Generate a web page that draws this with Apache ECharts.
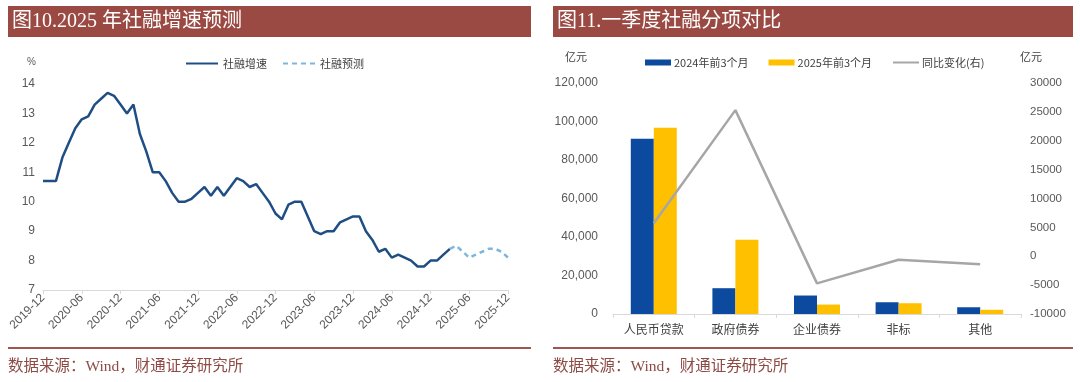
<!DOCTYPE html>
<html>
<head>
<meta charset="utf-8">
<script src="https://cdn.jsdelivr.net/npm/echarts@6/dist/echarts.min.js"></script>
<style>
html,body{margin:0;padding:0;background:#fff;}
#chart{width:1080px;height:382px;}
</style>
</head>
<body>
<div id="chart"></div>
<script>
// ---------- Left chart data ----------
var startYear = 2019, startMonth = 12, monthCount = 73; // 2019-12 .. 2025-12
var actualGrowth = [
  10.7,10.7,10.7,11.5,12.0,12.5,12.8,12.9,13.3,13.5,13.7,13.6,13.3,
  13.0,13.3,12.3,11.7,11.0,11.0,10.7,10.3,10.0,10.0,10.1,10.3,
  10.5,10.2,10.5,10.2,10.5,10.8,10.7,10.5,10.6,10.3,10.0,9.6,
  9.4,9.9,10.0,10.0,9.5,9.0,8.9,9.0,9.0,9.3,9.4,9.5,
  9.5,9.0,8.7,8.3,8.4,8.1,8.2,8.1,8.0,7.8,7.8,8.0,
  8.0,8.2,8.4
];
var forecastGrowth = [8.4,8.5,8.3,8.1,8.2,8.3,8.4,8.4,8.3,8.1]; // 2025-03 .. 2025-12
var forecastStartIndex = 63;

// ---------- Right chart data ----------
var categories = ['人民币贷款','政府债券','企业债券','非标','其他'];
var q1_2024 = [91100, 13400, 9600, 6100, 3500];
var q1_2025 = [96800, 38600, 4900, 5600, 2200];
var yoyChange = [5700, 25300, -4700, -600, -1400];

// ---------- build ----------
var months = [];
for (var k = 0; k < monthCount; k++) {
  var m0 = startMonth - 1 + k;
  var y = startYear + Math.floor(m0 / 12);
  var m = m0 % 12 + 1;
  months.push(y + '-' + (m < 10 ? '0' + m : '' + m));
}
var actualData = months.map(function (_, i) { return i < actualGrowth.length ? actualGrowth[i] : null; });
var forecastData = months.map(function (_, i) {
  var j = i - forecastStartIndex;
  return (j >= 0 && j < forecastGrowth.length) ? forecastGrowth[j] : null;
});

var BRAND = '#9B4A43';
var SANS = 'Liberation Sans, Arial, Noto Sans CJK SC, sans-serif';
var CJK = 'Noto Sans CJK SC, sans-serif';
var TITLE_FONT = 'Liberation Serif, Noto Sans CJK SC, serif';
var HIDE_SYMBOL = {color: 'rgba(0,0,0,0)', borderWidth: 0, opacity: 0};

var chart = echarts.init(document.getElementById('chart'), null, {renderer: 'canvas'});
chart.setOption({
  backgroundColor: '#ffffff',
  animation: false,
  legend: [
    {
      left: 180, top: 53,
      itemWidth: 32, itemHeight: 12, itemGap: 15,
      textStyle: {fontFamily: CJK, fontSize: 11, color: '#404040'},
      data: [
        {name: '社融增速', itemStyle: HIDE_SYMBOL},
        {name: '社融预测', itemStyle: HIDE_SYMBOL}
      ]
    },
    {
      left: 640, top: 52,
      itemWidth: 26, itemHeight: 6, itemGap: 20,
      textStyle: {fontFamily: CJK, fontSize: 11, color: '#404040', padding: [0, 0, 0, -2]},
      data: [
        {name: '2024年前3个月', icon: 'rect'},
        {name: '2025年前3个月', icon: 'rect'},
        {name: '同比变化(右)', itemStyle: HIDE_SYMBOL}
      ]
    }
  ],
  grid: [
    {left: 43, top: 84, width: 465, height: 206, containLabel: false},
    {left: 613, top: 83, width: 408, height: 231, containLabel: false}
  ],
  xAxis: [
    {
      type: 'category', gridIndex: 0, data: months, boundaryGap: false,
      axisLine: {lineStyle: {color: '#D9D9D9', width: 1}},
      axisTick: {show: true, interval: 5, length: 4, lineStyle: {color: '#D9D9D9'}},
      axisLabel: {interval: 5, rotate: 45, fontFamily: SANS, fontSize: 12, color: '#595959', margin: 6},
      splitLine: {show: false}
    },
    {
      type: 'category', gridIndex: 1, data: categories, boundaryGap: true,
      axisLine: {lineStyle: {color: '#D9D9D9', width: 1}},
      axisTick: {show: true, length: 4, lineStyle: {color: '#D9D9D9'}},
      axisLabel: {fontFamily: CJK, fontSize: 12, color: '#404040', margin: 9},
      splitLine: {show: false}
    }
  ],
  yAxis: [
    {
      type: 'value', gridIndex: 0, min: 7, max: 14, interval: 1,
      axisLine: {show: false}, axisTick: {show: false}, splitLine: {show: false},
      axisLabel: {fontFamily: SANS, fontSize: 12, color: '#595959', margin: 8}
    },
    {
      type: 'value', gridIndex: 1, min: 0, max: 120000, interval: 20000,
      axisLine: {show: false}, axisTick: {show: false}, splitLine: {show: false},
      axisLabel: {
        fontFamily: SANS, fontSize: 12, color: '#595959', margin: 15,
        formatter: function (v) { return v.toString().replace(/\B(?=(\d{3})+(?!\d))/g, ','); }
      }
    },
    {
      type: 'value', gridIndex: 1, position: 'right', min: -10000, max: 30000, interval: 5000,
      axisLine: {show: false}, axisTick: {show: false}, splitLine: {show: false},
      axisLabel: {fontFamily: SANS, fontSize: 11.5, color: '#595959', margin: 9,
        formatter: function (v) { return String(v); }}
    }
  ],
  series: [
    {
      name: '社融增速', type: 'line', xAxisIndex: 0, yAxisIndex: 0,
      data: actualData, symbol: 'none', connectNulls: false,
      lineStyle: {color: '#1F4E84', width: 2.5}, itemStyle: {color: '#1F4E84'}
    },
    {
      name: '社融预测', type: 'line', xAxisIndex: 0, yAxisIndex: 0,
      data: forecastData, symbol: 'none', connectNulls: false,
      lineStyle: {color: '#7DB7DB', width: 2.5, type: [5, 4]}, itemStyle: {color: '#7DB7DB'}
    },
    {
      name: '2024年前3个月', type: 'bar', xAxisIndex: 1, yAxisIndex: 1,
      data: q1_2024, barWidth: 23, barGap: '0%',
      itemStyle: {color: '#0B4A9E'}
    },
    {
      name: '2025年前3个月', type: 'bar', xAxisIndex: 1, yAxisIndex: 1,
      data: q1_2025, barWidth: 23, barGap: '0%',
      itemStyle: {color: '#FFC000'}
    },
    {
      name: '同比变化(右)', type: 'line', xAxisIndex: 1, yAxisIndex: 2,
      data: yoyChange, symbol: 'none',
      lineStyle: {color: '#A6A6A6', width: 2.5}, itemStyle: {color: '#A6A6A6'}
    }
  ],
  graphic: [
    {type: 'rect', shape: {x: 8, y: 6, width: 523, height: 31}, style: {fill: BRAND}, silent: true},
    {type: 'rect', shape: {x: 553, y: 6, width: 520, height: 31}, style: {fill: BRAND}, silent: true},
    {type: 'text', x: 12, y: 21.5, style: {text: '图10.2025 年社融增速预测', fill: '#ffffff', font: '20px ' + TITLE_FONT, textVerticalAlign: 'middle'}},
    {type: 'text', x: 557, y: 21.5, style: {text: '图11.一季度社融分项对比', fill: '#ffffff', font: '20px ' + TITLE_FONT, textVerticalAlign: 'middle'}},
    {type: 'text', x: 27, y: 62, style: {text: '%', fill: '#595959', font: '10px ' + SANS, textVerticalAlign: 'middle'}},
    {type: 'text', x: 565, y: 57, style: {text: '亿元', fill: '#404040', font: '11px ' + CJK, textVerticalAlign: 'middle'}},
    {type: 'text', x: 1020, y: 57, style: {text: '亿元', fill: '#404040', font: '11px ' + CJK, textVerticalAlign: 'middle'}},
    {type: 'rect', shape: {x: 8, y: 347, width: 523, height: 2}, style: {fill: '#A0564F'}, silent: true},
    {type: 'rect', shape: {x: 553, y: 347, width: 520, height: 2}, style: {fill: '#A0564F'}, silent: true},
    {type: 'text', x: 8, y: 367, style: {text: '数据来源：Wind，财通证券研究所', fill: '#8E4B45', font: '15.5px ' + TITLE_FONT, textVerticalAlign: 'middle'}},
    {type: 'text', x: 553, y: 367, style: {text: '数据来源：Wind，财通证券研究所', fill: '#8E4B45', font: '15.5px ' + TITLE_FONT, textVerticalAlign: 'middle'}}
  ]
});
</script>
</body>
</html>
